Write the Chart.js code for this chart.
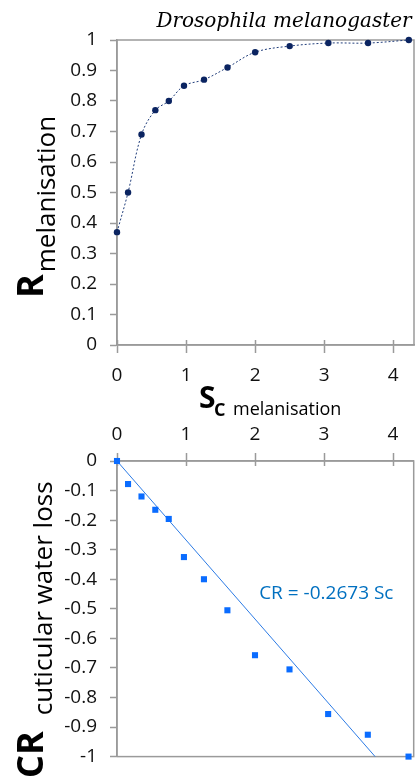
<!DOCTYPE html>
<html>
<head>
<meta charset="utf-8">
<script src="https://cdn.jsdelivr.net/npm/chart.js@4.4.1/dist/chart.umd.min.js"></script>
<style>
  body { margin: 0; background: #fff; }
  .box { position: absolute; left: 0; width: 418px; }
</style>
</head>
<body>
<div class="box" style="top:0;height:420px"><canvas id="melan"></canvas></div>
<div class="box" style="top:420px;height:361px"><canvas id="water"></canvas></div>
<script>
// Sc values shared by both panels
const sc = [0, 0.16, 0.355, 0.555, 0.75, 0.97, 1.26, 1.6, 2.0, 2.5, 3.06, 3.635, 4.225];
// R melanisation
const rMelan = [0.37, 0.50, 0.69, 0.77, 0.80, 0.85, 0.87, 0.91, 0.96, 0.98, 0.99, 0.99, 1.0];
// CR cuticular water loss
const crWater = [0, -0.078, -0.12, -0.165, -0.196, -0.325, -0.40, -0.505, -0.657, -0.705, -0.856, -0.926, -1.0];
// fitted line through the origin
const crSlope = -0.2673;
const fitLabel = 'CR = -0.2673 Sc';

const xMax = 4.3;
const axisGrey = '#9a9a9a';
const FONT = "'Open Sans', sans-serif";

Chart.defaults.font.family = FONT;
Chart.defaults.color = '#111';
Chart.defaults.animation = false;

const toPoints = (xs, ys) => xs.map((x, i) => ({ x: x, y: ys[i] }));
// 1 rather than 1.0, 0 rather than 0.0
const shortNum = v => String(parseFloat(Number(v).toFixed(1)));

// frame round the plot area plus short inner tick marks on the x axis
const framePlugin = {
  id: 'frame',
  beforeDatasetsDraw(chart, args, opts) {
    const { ctx, chartArea: a, scales } = chart;
    ctx.save();
    ctx.strokeStyle = axisGrey;
    ctx.lineWidth = 1.5;
    ctx.strokeRect(a.left, a.top, a.right - a.left, a.bottom - a.top);
    const xs = scales.x;
    const y0 = opts.top ? a.top : a.bottom;
    const dir = opts.top ? 1 : -1;
    ctx.beginPath();
    xs.ticks.forEach(t => {
      const px = Math.round(xs.getPixelForValue(t.value)) + 0.5;
      ctx.moveTo(px, y0);
      ctx.lineTo(px, y0 + dir * 5);
    });
    ctx.stroke();
    ctx.restore();
  }
};

// rotated y title: big bold symbol followed by a smaller subscript word
function drawYTitle(ctx, big, small, baseX, startY, gap, shift) {
  ctx.save();
  ctx.translate(baseX, startY);
  ctx.rotate(-Math.PI / 2);
  ctx.fillStyle = '#000';
  ctx.textBaseline = 'alphabetic';
  ctx.textAlign = 'left';
  ctx.font = 'bold 36px ' + FONT;
  ctx.fillText(big, 0, 0);
  const w = ctx.measureText(big).width;
  ctx.font = '26px ' + FONT;
  ctx.fillText(small, w + gap, shift);
  ctx.restore();
}

const melanTitles = {
  id: 'melanTitles',
  afterDraw(chart) {
    const ctx = chart.ctx;
    ctx.save();
    ctx.fillStyle = '#000';
    ctx.font = 'italic 20px "DejaVu Serif", serif';
    ctx.textAlign = 'center';
    ctx.fillText('Drosophila melanogaster', 284, 27);

    ctx.textAlign = 'left';
    ctx.font = 'bold 30px ' + FONT;
    ctx.fillText('S', 199, 408);
    ctx.font = 'bold 18px ' + FONT;
    ctx.fillText('C', 214, 416);
    ctx.font = '18px ' + FONT;
    ctx.fillText('melanisation', 233, 415);
    ctx.restore();

    drawYTitle(ctx, 'R', 'melanisation', 43, 298, 2, 12);
  }
};

const waterTitles = {
  id: 'waterTitles',
  afterDraw(chart) {
    const { ctx, scales } = chart;
    drawYTitle(ctx, 'CR', 'cuticular water loss', 43, 358, 16, 9);
    ctx.save();
    ctx.fillStyle = '#0070C0';
    ctx.font = '19px ' + FONT;
    ctx.textAlign = 'left';
    ctx.textBaseline = 'middle';
    ctx.fillText(fitLabel, scales.x.getPixelForValue(2.06), scales.y.getPixelForValue(-0.45));
    ctx.restore();
  }
};

function xScale(position, padding) {
  return {
    type: 'linear', position: position, min: 0, max: xMax,
    ticks: { stepSize: 1, includeBounds: false, maxRotation: 0, padding: padding, font: { size: 19 }, callback: shortNum },
    grid: { drawOnChartArea: false, tickLength: 8, tickColor: axisGrey, tickWidth: 1.5 },
    border: { color: axisGrey, width: 1.5 }
  };
}

function yScale(min, max) {
  return {
    min: min, max: max,
    ticks: { stepSize: 0.1, padding: 13, font: { size: 19 }, callback: shortNum },
    grid: { drawOnChartArea: false, tickLength: 7, tickColor: axisGrey, tickWidth: 1.5 },
    border: { color: axisGrey, width: 1.5 },
    afterFit(s) { s.width = 117; }
  };
}

// R melanisation against Sc
const melanX = xScale('bottom', 11);
melanX.afterFit = s => { s.height = 75; };

new Chart(document.getElementById('melan'), {
  type: 'scatter',
  data: {
    datasets: [{
      data: toPoints(sc, rMelan),
      showLine: true,
      tension: 0.35,
      borderColor: '#1F3C7A',
      borderWidth: 1,
      borderDash: [2, 2],
      pointRadius: 3.2,
      pointBackgroundColor: '#0B2461',
      pointBorderWidth: 0,
      clip: false
    }]
  },
  options: {
    responsive: true,
    maintainAspectRatio: false,
    layout: { padding: { top: 40, right: 3, left: 0, bottom: 0 } },
    plugins: { legend: { display: false }, tooltip: { enabled: false }, frame: { top: false } },
    scales: { x: melanX, y: yScale(0, 1) }
  },
  plugins: [framePlugin, melanTitles]
});

// CR cuticular water loss against Sc, with the fitted line
const waterX = xScale('top', 7);
waterX.afterFit = s => { s.height = 41; };
const yLow = -1;

new Chart(document.getElementById('water'), {
  type: 'scatter',
  data: {
    datasets: [{
      data: toPoints(sc, crWater),
      pointStyle: 'rect',
      pointRadius: 4.3,
      pointBackgroundColor: '#0A6CFF',
      pointBorderWidth: 0,
      clip: false
    }, {
      data: [{ x: 0, y: 0 }, { x: yLow / crSlope, y: yLow }],
      showLine: true,
      borderColor: '#2C7BE5',
      borderWidth: 1,
      pointRadius: 0,
      clip: false
    }]
  },
  options: {
    responsive: true,
    maintainAspectRatio: false,
    layout: { padding: { top: 0, right: 3, left: 0, bottom: 9 } },
    plugins: { legend: { display: false }, tooltip: { enabled: false }, frame: { top: true } },
    scales: { x: waterX, y: yScale(yLow, 0) }
  },
  plugins: [framePlugin, waterTitles]
});
</script>
</body>
</html>
